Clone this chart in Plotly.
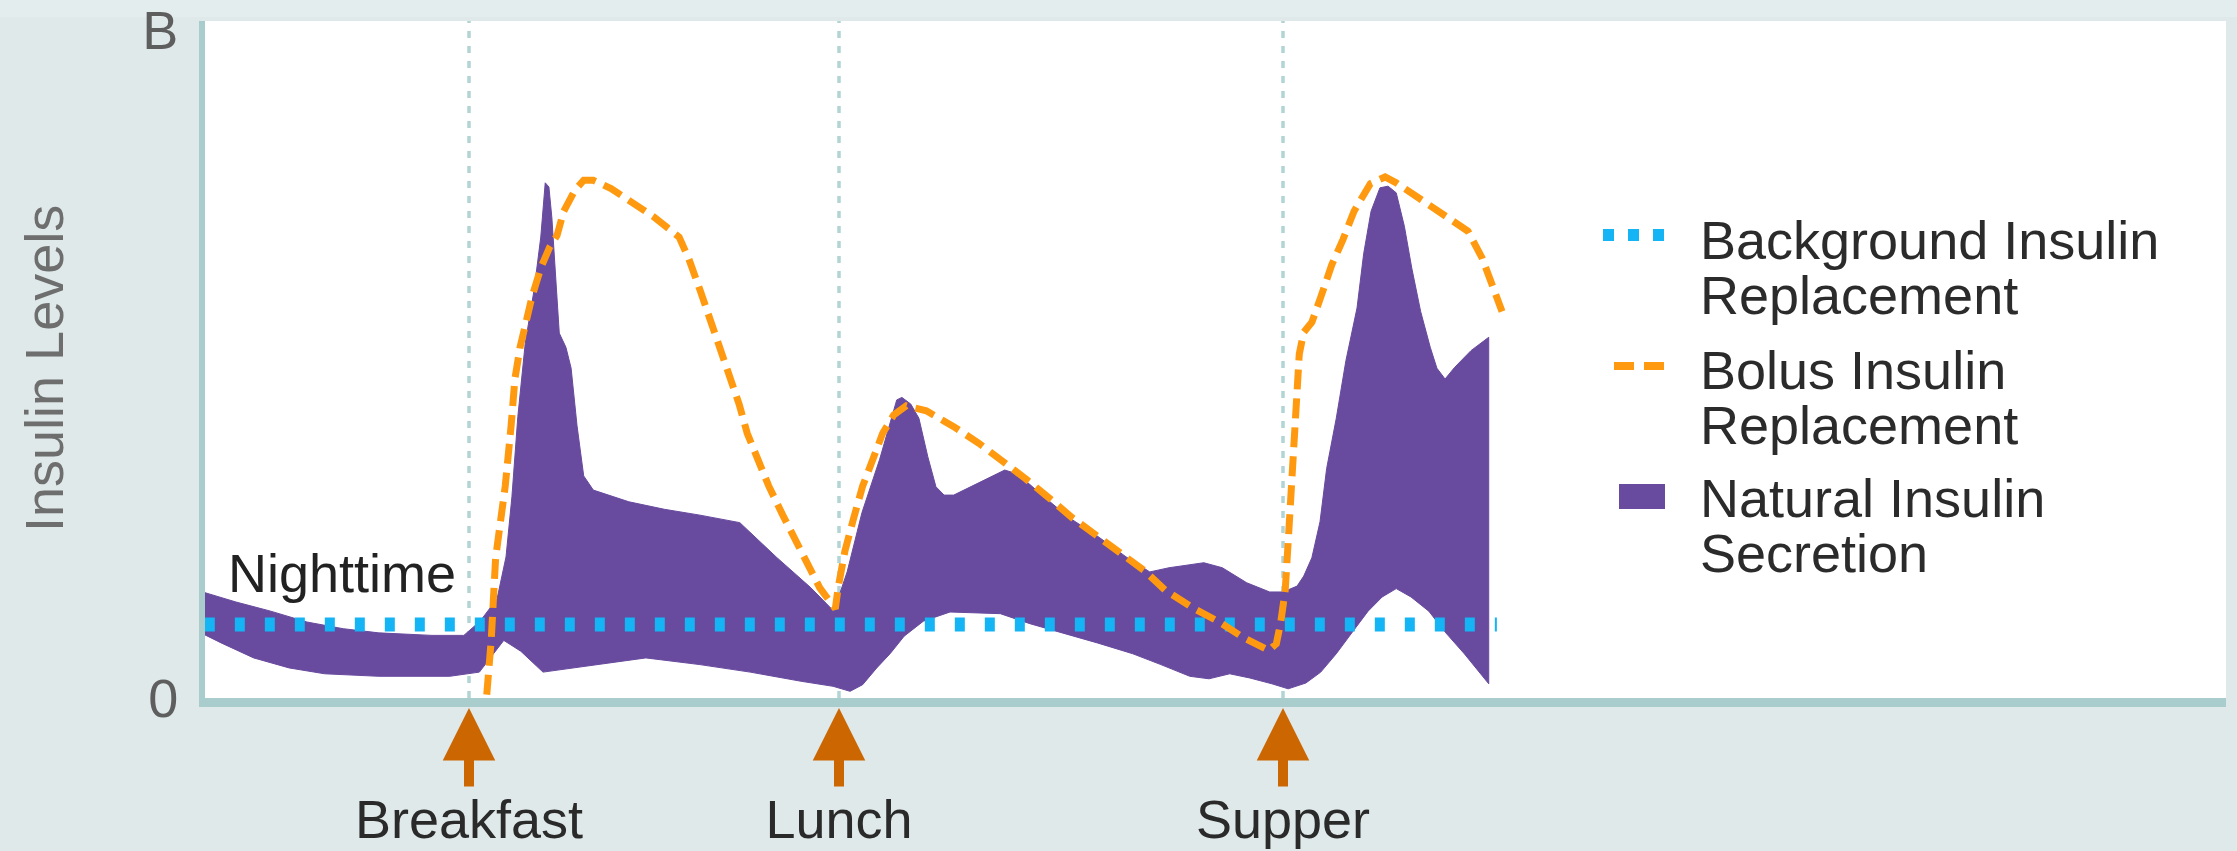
import plotly.graph_objects as go

# ---------------- data (time in hours, insulin level in arbitrary units) ----------------
natural_upper_x = [3.40, 3.85, 4.32, 4.81, 5.30, 5.78, 6.50, 6.93, 7.15, 7.38, 7.50, 7.58, 7.66,
                   7.76, 7.88, 7.97, 8.03, 8.08, 8.12, 8.19, 8.22, 8.31, 8.38, 8.46, 8.55, 8.68,
                   9.16, 9.64, 10.12, 10.66, 11.15, 11.62, 11.93, 12.11, 12.31, 12.55, 12.78,
                   12.85, 12.97, 13.08, 13.20, 13.31, 13.42, 13.55, 13.80, 14.24, 14.42, 14.77,
                   15.11, 15.49, 15.88, 16.20, 16.46, 16.93, 17.18, 17.51, 17.82, 18.00, 18.19,
                   18.28, 18.39, 18.50, 18.59, 18.72, 18.85, 19.00, 19.09, 19.19, 19.31, 19.42,
                   19.53, 19.64, 19.74, 19.86, 19.99, 20.08, 20.19, 20.32, 20.54, 20.78]
natural_upper_y = [1.27, 1.15, 1.04, 0.91, 0.83, 0.78, 0.75, 0.75, 0.92, 1.19, 1.69, 2.41, 3.37,
                   4.25, 4.89, 5.52, 6.17, 6.12, 5.75, 4.80, 4.37, 4.20, 3.95, 3.26, 2.66, 2.49,
                   2.35, 2.26, 2.19, 2.10, 1.69, 1.32, 1.04, 1.51, 2.22, 2.86, 3.57,
                   3.60, 3.52, 3.35, 2.89, 2.53, 2.43, 2.43, 2.54, 2.73, 2.68, 2.41,
                   2.16, 1.94, 1.69, 1.51, 1.56, 1.62, 1.56, 1.38, 1.27, 1.27, 1.34,
                   1.46, 1.68, 2.11, 2.75, 3.35, 4.04, 4.67, 5.32, 5.83, 6.11, 6.13,
                   6.05, 5.65, 5.15, 4.63, 4.20, 3.95, 3.82, 3.96, 4.16, 4.32]

natural_lower_x = [3.40, 3.65, 4.09, 4.57, 5.05, 5.78, 6.74, 7.14, 7.47, 7.70, 8.00, 8.43, 8.92,
                   9.39, 10.12, 10.80, 11.49, 11.92, 12.15, 12.32, 12.51, 12.69, 12.88, 13.14,
                   13.50, 13.91, 14.18, 14.58, 15.00, 15.49, 15.97, 16.35, 16.74, 17.00, 17.28,
                   17.55, 17.85, 18.07, 18.31, 18.51, 18.72, 18.93, 19.15, 19.34, 19.53, 19.73,
                   19.97, 20.20, 20.45, 20.78]
natural_lower_y = [0.77, 0.66, 0.48, 0.36, 0.29, 0.26, 0.26, 0.31, 0.69, 0.56, 0.31, 0.36, 0.42,
                   0.48, 0.40, 0.31, 0.20, 0.14, 0.08, 0.16, 0.36, 0.53, 0.74, 0.92,
                   1.03, 1.02, 1.01, 0.89, 0.78, 0.66, 0.53, 0.40, 0.26, 0.23, 0.29,
                   0.24, 0.17, 0.11, 0.18, 0.31, 0.53, 0.78, 1.04, 1.21, 1.31, 1.21,
                   1.04, 0.78, 0.53, 0.17]

bolus_x = [7.24, 7.30, 7.36, 7.49, 7.57, 7.62, 7.69, 7.76, 7.85, 7.97, 8.09, 8.19, 8.28, 8.43,
           8.55, 8.68, 8.92, 9.16, 9.50, 9.84, 9.97, 10.12, 10.27, 10.39, 10.51, 10.65, 10.76,
           10.91, 11.05, 11.24, 11.41, 11.58, 11.74, 11.89, 11.95, 11.99, 12.08, 12.20, 12.32,
           12.45, 12.59, 12.74, 12.91, 13.18, 13.55, 13.89, 14.22, 14.53, 14.86, 15.15, 15.49,
           15.82, 16.12, 16.41, 16.80, 17.14, 17.47, 17.81, 17.91, 17.97, 18.03, 18.07, 18.11,
           18.15, 18.18, 18.22, 18.28, 18.39, 18.51, 18.66, 18.81, 18.96, 19.18, 19.38, 19.53,
           19.82, 20.16, 20.50, 20.69, 20.84, 20.96]
bolus_y = [0.04, 0.69, 1.68, 2.54, 3.27, 3.82, 4.20, 4.46, 4.80, 5.15, 5.40, 5.54, 5.83, 6.08,
           6.20, 6.20, 6.10, 5.96, 5.76, 5.52, 5.26, 4.89, 4.50, 4.20, 3.86, 3.52, 3.17,
           2.84, 2.54, 2.19, 1.89, 1.59, 1.32, 1.14, 1.07, 1.33, 1.76, 2.16, 2.54,
           2.84, 3.17, 3.39, 3.50, 3.44, 3.25, 3.05, 2.84, 2.62, 2.38, 2.16, 1.94,
           1.72, 1.53, 1.29, 1.07, 0.91, 0.72, 0.57, 0.65, 0.91, 1.29, 1.87, 2.41,
           2.89, 3.37, 4.12, 4.38, 4.50, 4.80, 5.19, 5.49, 5.83, 6.16, 6.24, 6.17,
           6.00, 5.81, 5.59, 5.27, 4.93, 4.63]

background_x = [3.43, 20.89]
background_y = [0.88, 0.88]

meal_times = [7, 12, 18]
meal_labels = ["Breakfast", "Lunch", "Supper"]

y_tick_vals = [0, 8]
y_tick_text = ["0", "B"]

legend_lines = [
    "Background Insulin", "Replacement",
    "Bolus Insulin", "Replacement",
    "Natural Insulin", "Secretion",
]

# ---------------- styling ----------------
W, H = 2237, 851
ML, MR, MT, MB = 205, 11, 21, 153
PW, PH = W - ML - MR, H - MT - MB
FONT = "Arial, 'Liberation Sans', sans-serif"
PURPLE = "#684a9e"
BLUE = "#14b4f5"
ORANGE = "#ff9a10"
AXIS = "#a9cdcd"
ARROW = "#cc6600"
FS = 54


def pxx(p):
    return (p - ML) / PW


def pxy(p):
    return (H - MB - p) / PH


x_range = [7 - 264 / 74, 7 - 264 / 74 + PW / 74]
y_range = [0, PH / 83.5]

fig = go.Figure()

fig.add_trace(go.Scatter(
    x=natural_upper_x + natural_lower_x[::-1],
    y=natural_upper_y + natural_lower_y[::-1],
    mode="lines", fill="toself", fillcolor=PURPLE,
    line=dict(color=PURPLE, width=1),
    name="Natural Insulin Secretion", hoverinfo="skip"))

fig.add_trace(go.Scatter(
    x=background_x, y=background_y, mode="lines",
    line=dict(color=BLUE, width=14, dash="10px,20px"),
    name="Background Insulin Replacement"))

fig.add_trace(go.Scatter(
    x=bolus_x, y=bolus_y, mode="lines",
    line=dict(color=ORANGE, width=7, dash="20px,9px"),
    name="Bolus Insulin Replacement"))

shapes = []
for t in meal_times:
    shapes.append(dict(type="line", xref="x", yref="paper", x0=t, x1=t, y0=0, y1=1,
                       line=dict(color="#b3d4d4", width=3.5, dash="7px,8px"), layer="below"))

# top band of the background
shapes.append(dict(type="rect", xref="paper", yref="paper", x0=pxx(0), x1=pxx(W),
                   y0=pxy(17), y1=pxy(0), fillcolor="#e4eded", line=dict(width=0), layer="below"))

# legend symbols
shapes.append(dict(type="line", xref="paper", yref="paper", x0=pxx(1603), x1=pxx(1665),
                   y0=pxy(235), y1=pxy(235), line=dict(color=BLUE, width=12, dash="11px,14px")))
shapes.append(dict(type="line", xref="paper", yref="paper", x0=pxx(1614), x1=pxx(1664),
                   y0=pxy(366), y1=pxy(366), line=dict(color=ORANGE, width=8, dash="20px,10px")))
shapes.append(dict(type="rect", xref="paper", yref="paper", x0=pxx(1619), x1=pxx(1665),
                   y0=pxy(509), y1=pxy(484), fillcolor=PURPLE, line=dict(width=0)))

annotations = []
for t in meal_times:
    annotations.append(dict(x=t, y=pxy(708), xref="x", yref="paper", text="",
                            font=dict(size=1), borderpad=0,
                            showarrow=True, arrowhead=2, arrowwidth=10, arrowsize=1.05,
                            arrowcolor=ARROW, ax=0, ay=79, standoff=0, startstandoff=0))

legend_mid = [240, 295, 370, 425, 498, 553]
for text, mid in zip(legend_lines, legend_mid):
    annotations.append(dict(x=pxx(1699), y=pxy(mid), xref="paper", yref="paper",
                            text=text, showarrow=False, xanchor="left", yanchor="middle",
                            borderpad=0,
                            font=dict(family=FONT, size=FS, color="#2b2b2b")))

annotations.append(dict(x=pxx(226), y=pxy(573), xref="paper", yref="paper", text="Nighttime",
                        showarrow=False, xanchor="left", yanchor="middle",
                        font=dict(family=FONT, size=FS, color="#222222")))

annotations.append(dict(x=pxx(44), y=pxy(369), xref="paper", yref="paper", text="Insulin Levels",
                        showarrow=False, textangle=-90, xanchor="center", yanchor="middle",
                        font=dict(family=FONT, size=FS, color="#6e6e6e")))

fig.update_layout(
    width=W, height=H,
    margin=dict(l=ML, r=MR, t=MT, b=MB, autoexpand=False),
    paper_bgcolor="#dfe9e9", plot_bgcolor="#ffffff",
    showlegend=False,
    shapes=shapes, annotations=annotations,
    font=dict(family=FONT, size=FS),
    xaxis=dict(range=x_range, showgrid=False, zeroline=False, showline=True, automargin=False,
               linecolor=AXIS, linewidth=9, tickvals=meal_times, ticktext=meal_labels,
               ticks="outside", ticklen=66, tickcolor="rgba(0,0,0,0)",
               ticklabeloverflow="allow",
               tickfont=dict(family=FONT, size=FS, color="#2a2a2a")),
    yaxis=dict(range=y_range, showgrid=False, zeroline=False, showline=True, automargin=False,
               linecolor=AXIS, linewidth=6, tickvals=y_tick_vals, ticktext=y_tick_text,
               ticks="outside", ticklen=10, tickcolor="rgba(0,0,0,0)",
               ticklabeloverflow="allow",
               tickfont=dict(family=FONT, size=FS, color="#5e5e5e")),
)

fig.write_html("out.html")
